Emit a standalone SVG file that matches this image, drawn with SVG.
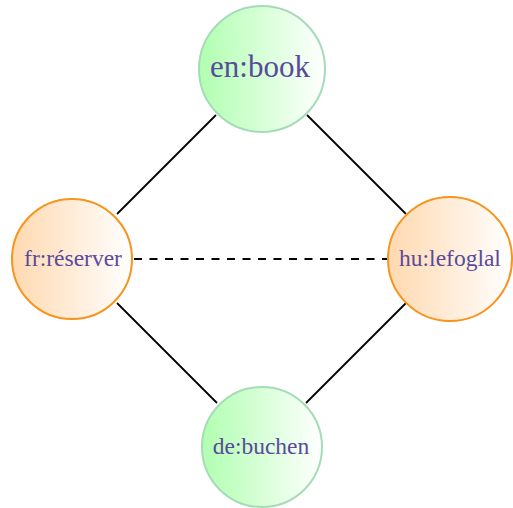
<svg xmlns="http://www.w3.org/2000/svg" width="513" height="508" viewBox="0 0 513 508">
<defs>
<linearGradient id="gg" x1="0" y1="0" x2="1" y2="0"><stop offset="0" stop-color="#b0ffb0"/><stop offset="1" stop-color="#ffffff"/></linearGradient>
<linearGradient id="og" x1="0" y1="0" x2="1" y2="0"><stop offset="0" stop-color="#ffd9b0"/><stop offset="1" stop-color="#ffffff"/></linearGradient>
</defs>
<style>
.g{fill:url(#gg);stroke:#a6dbb8;stroke-width:2}
.o{fill:url(#og);stroke:#f7941d;stroke-width:2}
.t{font-family:"Liberation Serif","Times New Roman",serif;fill:#5a4a9c;text-anchor:middle}
.e{stroke:#000;stroke-width:1.8;fill:none}
</style>
<g id="connectors">
<line class="e" x1="216" y1="115" x2="117" y2="214"/>
<line class="e" x1="307" y1="115" x2="406" y2="214"/>
<line class="e" x1="117" y1="303" x2="217" y2="403"/>
<line class="e" x1="406" y1="303" x2="306" y2="403"/>
<line class="e" x1="134" y1="259" x2="387" y2="259" stroke-dasharray="8,7.5"/>
</g>
<g id="en-book"><circle class="g" cx="262" cy="69" r="63"/><text class="t" x="260" y="77" font-size="31">en:book</text></g>
<g id="fr-reserver"><circle class="o" cx="72" cy="259" r="60"/><text class="t" x="73" y="266" font-size="23.5">fr:réserver</text></g>
<g id="hu-lefoglal"><circle class="o" cx="450" cy="259" r="62"/><text class="t" x="450" y="266" font-size="23.5">hu:lefoglal</text></g>
<g id="de-buchen"><circle class="g" cx="262" cy="447" r="60"/><text class="t" x="261" y="454" font-size="23.5">de:buchen</text></g>
</svg>
